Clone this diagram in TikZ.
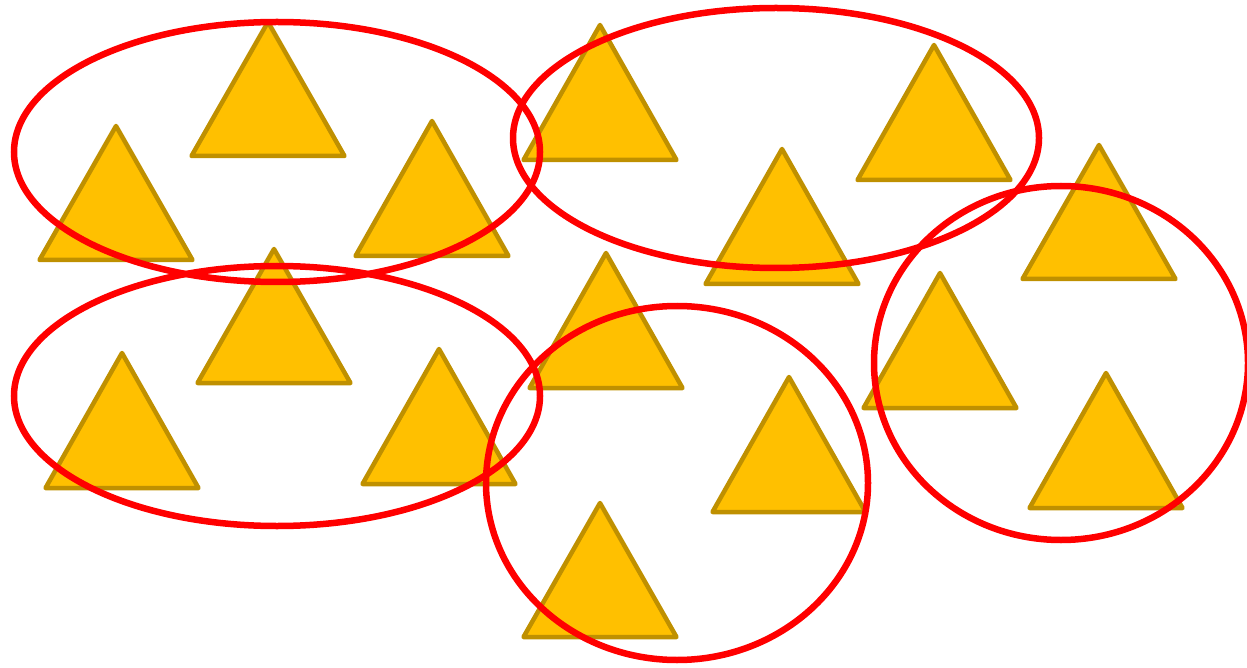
\documentclass[tikz,border=0pt]{standalone}
\definecolor{triFill}{HTML}{FFC000}
\definecolor{triLine}{HTML}{BF9000}
\definecolor{ringRed}{HTML}{FF0000}
\tikzset{
  tri/.style={fill=triFill, draw=triLine, line width=4.5pt, line join=round, line cap=round},
  ring/.style={draw=ringRed, line width=6.5pt}
}
\newcommand{\tria}[3]{% apex x, apex y, base y
  \path[tri] (#1,#2) -- (#1-76.5,#3) -- (#1+76.5,#3) -- cycle;}
\begin{document}
\begin{tikzpicture}[x=1pt,y=-1pt]
\useasboundingbox (0,0) rectangle (1247,668);
\tria{268}{22}{156}
\tria{116}{126}{260}
\tria{432}{121}{256}
\tria{600}{25}{160}
\tria{934}{45}{180}
\tria{782}{149}{284}
\tria{1099}{145}{279}
\tria{274}{249}{383}
\tria{122}{353}{488}
\tria{439}{349}{484}
\tria{606}{253}{388}
\tria{940}{273}{408}
\tria{789}{377}{512}
\tria{1106}{373}{508}
\tria{600}{503}{637}
\draw[ring] (277,152) ellipse [x radius=263, y radius=130];
\draw[ring] (776,138) ellipse [x radius=263, y radius=130];
\draw[ring] (277,396) ellipse [x radius=263, y radius=130];
\draw[ring] (677,483) ellipse [x radius=191, y radius=177];
\draw[ring] (1061,363) ellipse [x radius=187, y radius=177];
\end{tikzpicture}
\end{document}
